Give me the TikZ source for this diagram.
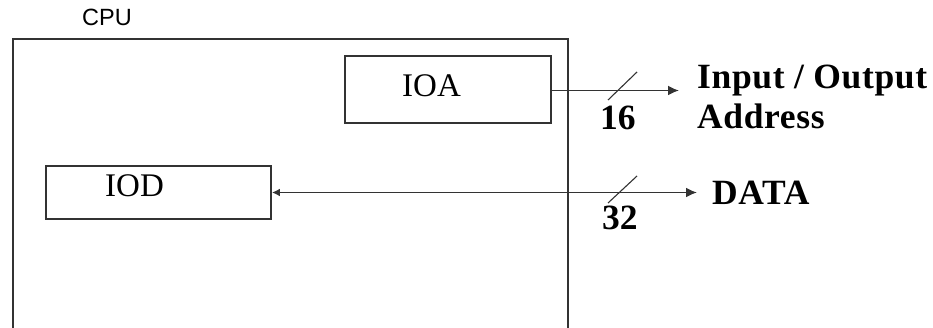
\documentclass[tikz,border=0pt]{standalone}
\usepackage{fontspec}
\setmainfont{Liberation Serif}
\newfontfamily\cpufont{Liberation Sans}
\newfontfamily\labelfont[LetterSpace=1.8]{Liberation Serif}
\usetikzlibrary{arrows.meta}
\definecolor{linegray}{HTML}{333333}
\tikzset{
  boxnode/.style={draw=linegray, line width=1.9pt, rectangle, inner sep=0pt},
  boxtext/.style={inner sep=0pt, anchor=base west, font=\fontsize{33}{36}\selectfont},
  biglabel/.style={inner sep=0pt, font=\bfseries\fontsize{35.5}{40}\selectfont},
  spacedlabel/.style={inner sep=0pt, font=\labelfont\bfseries\fontsize{35.5}{40}\selectfont},
  busline/.style={draw=linegray, line width=1.8pt},
  busarrow/.style={-{Latex[length=11pt,width=10pt]}},
  slashmark/.style={draw=linegray, line width=1.1pt},
}
\begin{document}
\begin{tikzpicture}[x=1pt,y=-1pt]
\useasboundingbox (0,0) rectangle (933,328);
% CPU outline (open at the bottom)
\coordinate (cpubl) at (13,330);
\coordinate (cputl) at (13,39);
\coordinate (cputr) at (568,39);
\coordinate (cpubr) at (568,330);
\draw[draw=linegray, line width=1.9pt] (cpubl) -- (cputl) -- (cputr) -- (cpubr);
\node[inner sep=0pt, anchor=base west, font=\cpufont\fontsize{23.5}{26}\selectfont] (cpulabel) at (82,26) {CPU};
% registers
\node[boxnode, minimum width=206pt, minimum height=67pt] (ioa) at (448,89.5) {};
\node[boxtext] (ioatext) at (402,97) {IOA};
\node[boxnode, minimum width=225pt, minimum height=53pt] (iod) at (158.5,192.5) {};
\node[boxtext] (iodtext) at (105,197) {IOD};
% bus ends
\coordinate (ioaend) at (679,90.5);
\coordinate (dataend) at (697,192.5);
\draw[busline, busarrow] (ioa.east |- ioaend) -- (ioaend);
\draw[busline, {Latex[length=8pt,width=8pt]}-{Latex[length=11pt,width=10pt]}] (iod.east) -- (dataend);
% width slashes
\draw[slashmark] (608,100) -- (637,72);
\draw[slashmark] (608,203) -- (637,176);
\node[biglabel, anchor=base west] (w16) at (600,130) {16};
\node[biglabel, anchor=base west] (w32) at (602,230) {32};
% labels
\node[spacedlabel, anchor=north west, align=left] (addrlabel) at (697,65) {Input / Output\\Address};
\node[spacedlabel, anchor=base west] (datalabel) at (712,205) {DATA};
\end{tikzpicture}
\end{document}
